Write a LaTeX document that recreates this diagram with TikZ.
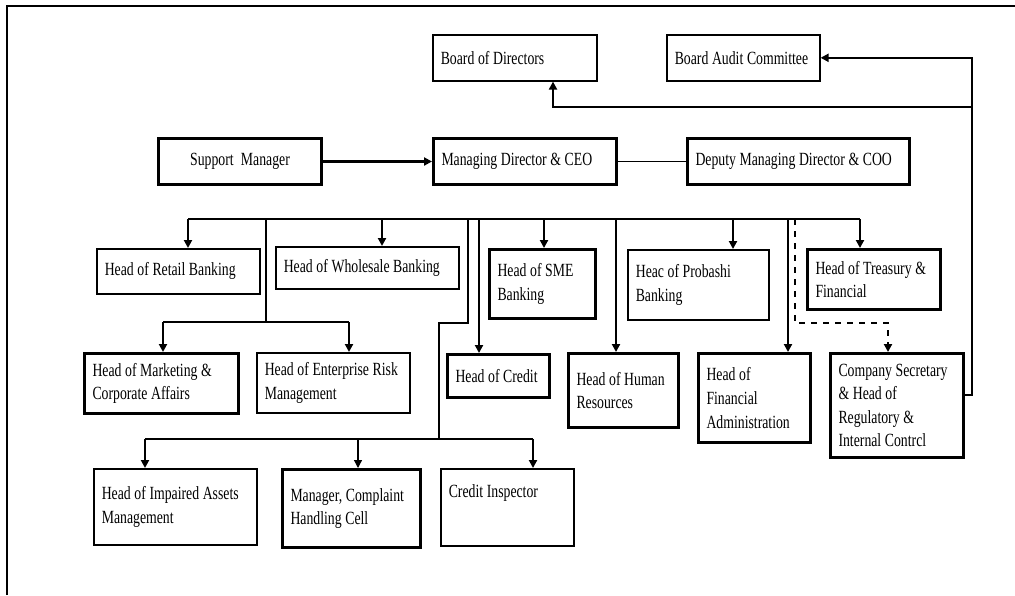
\documentclass[tikz,border=0pt]{standalone}
\usepackage{fontspec}
\newfontfamily\chartfont[FakeStretch=0.74]{Liberation Serif}
\usetikzlibrary{arrows.meta}
\hyphenpenalty=10000
\exhyphenpenalty=10000

\begin{document}
\begin{tikzpicture}[x=0.5pt, y=-0.5pt,
    >={Triangle[length=4pt,width=4pt]},
    unit/.style={draw, anchor=north west, align=flush left, inner xsep=4pt, inner ysep=2pt,
      line width=0.8pt, font={\chartfont\fontsize{9.3}{11.8}\selectfont\fontdimen2\font=1.8pt\fontdimen3\font=0.6pt}},
    heavy/.style={line width=1.5pt},
    link/.style={line width=1.1pt}]
    \useasboundingbox (0,0) rectangle (1015,595);

    % Frame
    \draw[line width=1.3pt] (7,595) -- (7,6) -- (1015,6);

    % Board level
    \node[unit, text width=74pt, minimum height=23pt] (bod) at (432,34) {Board of Directors};
    \node[unit, text width=68.5pt, minimum height=23pt] (bac) at (666,34) {Board Audit Committee};

    % Executive level
    \node[unit, heavy, align=flush center, text width=73.5pt, minimum height=23pt] (sup) at (157,137) {Support\ \ Manager};
    \node[unit, heavy, text width=83.5pt, minimum height=23pt] (md) at (432,137) {Managing Director \& CEO};
    \node[unit, heavy, text width=103pt, minimum height=23pt] (dmd) at (686,137) {Deputy Managing Director \& COO};

    % Heads, first row
    \node[unit, text width=73.5pt, minimum height=22.5pt] (retail) at (96,248) {Head of Retail Banking};
    \node[unit, text width=83.5pt, minimum height=21pt] (whole) at (275,246) {Head of Wholesale Banking};
    \node[unit, heavy, text width=45pt, minimum height=34.5pt] (sme) at (488,248) {Head of SME\\Banking};
    \node[unit, text width=62.5pt, minimum height=35pt] (prob) at (627,249) {Heac of Probashi\\Banking};
    \node[unit, heavy, text width=58.5pt, minimum height=30pt] (treas) at (806,248) {Head of Treasury \&\\Financial};

    % Heads, second row
    \node[unit, heavy, text width=69pt, minimum height=30pt] (mkt) at (83,352) {Head of Marketing \&\\Corporate Affairs};
    \node[unit, text width=68.5pt, minimum height=30pt] (erm) at (256,352) {Head of Enterprise Risk\\Management};
    \node[unit, heavy, text width=43pt, minimum height=21.5pt] (credit) at (446,353) {Head of Credit};
    \node[unit, heavy, text width=47pt, minimum height=37pt] (hr) at (567,352) {Head of Human\\Resources};
    \node[unit, heavy, text width=48pt, minimum height=44.5pt] (fa) at (697,352) {Head of\\Financial\\Administration};
    \node[unit, heavy, text width=58.5pt, minimum height=52pt] (cs) at (829,352) {Company Secretary\\\& Head of\\Regulatory \&\\Internal Contrcl};

    % Credit units
    \node[unit, text width=73.5pt, minimum height=38pt] (imp) at (93,468) {Head of Impaired Assets\\Management};
    \node[unit, heavy, text width=61pt, minimum height=39pt] (comp) at (281,468) {Manager, Complaint\\Handling Cell};
    \node[unit, text width=58.5pt, minimum height=38.5pt, text depth=16.5pt] (insp) at (440,468) {Credit Inspector};

    % Board links
    \coordinate (rt) at (972,395);
    \coordinate (rb) at (972,107);
    \coordinate (bd) at (553,107);
    \draw[link, ->] (cs.east |- rt) -- (rt) |- (bac.east);
    \draw[link, ->] (rb) -- (bd) -- (bd |- bod.south);

    % Executive links
    \draw[link, line width=1.5pt, ->] (sup) -- (md);
    \draw[line width=0.5pt] (md) -- (dmd);

    % Main bus
    \coordinate (b1) at (188,219);
    \coordinate (b2) at (266,219);
    \coordinate (b3) at (382,219);
    \coordinate (b4) at (468,219);
    \coordinate (b5) at (479,219);
    \coordinate (b6) at (544,219);
    \coordinate (b7) at (616,219);
    \coordinate (b8) at (733,219);
    \coordinate (b9) at (788,219);
    \coordinate (b10) at (795,219);
    \coordinate (b11) at (860,219);
    \draw[link] (b1) -- (b11);
    \draw[link, ->] (b1) -- (b1 |- retail.north);
    \draw[link, ->] (b3) -- (b3 |- whole.north);
    \draw[link, ->] (b5) -- (b5 |- credit.north);
    \draw[link, ->] (b6) -- (b6 |- sme.north);
    \draw[link, ->] (b7) -- (b7 |- hr.north);
    \draw[link, ->] (b8) -- (b8 |- prob.north);
    \draw[link, ->] (b9) -- (b9 |- fa.north);
    \draw[link, ->] (b11) -- (b11 |- treas.north);

    % Marketing / risk branch
    \coordinate (m1) at (163,322);
    \coordinate (m2) at (349,322);
    \draw[link] (b2) -- (b2 |- m1);
    \draw[link] (m1) -- (m2);
    \draw[link, ->] (m1) -- (m1 |- mkt.north);
    \draw[link, ->] (m2) -- (m2 |- erm.north);

    % Company secretary (dashed)
    \coordinate (c1) at (888,323);
    \draw[link, dashed, ->] (b10) |- (c1) -- (c1 |- cs.north);

    % Credit units branch
    \coordinate (lj) at (439,439);
    \coordinate (l1) at (145,439);
    \coordinate (l2) at (358,439);
    \coordinate (l3) at (533,439);
    \draw[link] (b4) -- ++(0,104) -| (lj);
    \draw[link] (l1) -- (l3);
    \draw[link, ->] (l1) -- (l1 |- imp.north);
    \draw[line width=0.6pt, ->] (l2) -- (l2 |- comp.north);
    \draw[link, ->] (l3) -- (l3 |- insp.north);
\end{tikzpicture}
\end{document}
